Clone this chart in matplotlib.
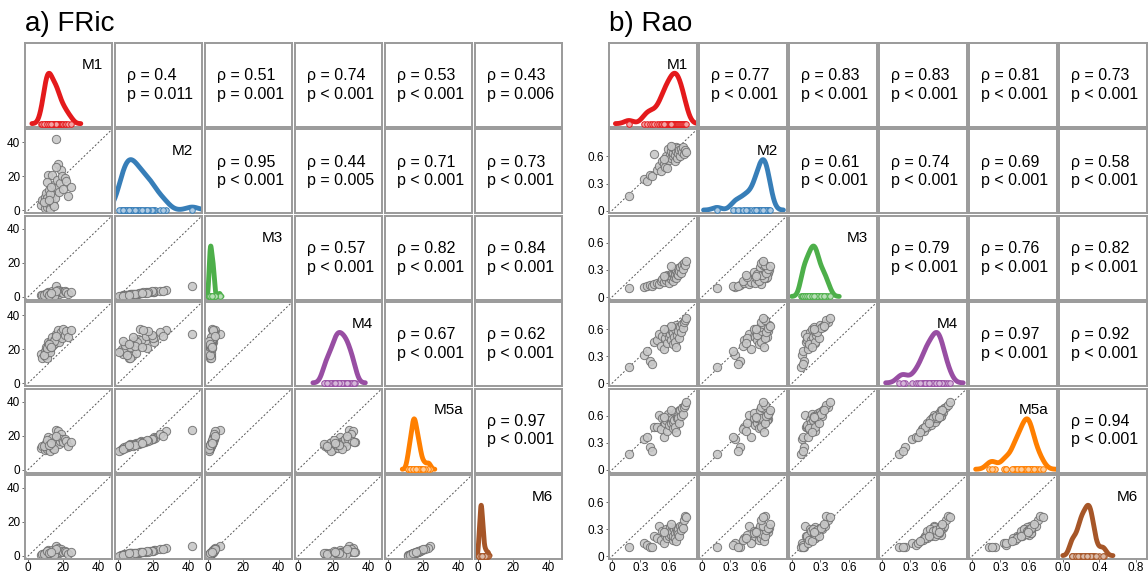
import numpy as np
import matplotlib.pyplot as plt

plt.rcParams['font.family'] = ['Liberation Sans', 'DejaVu Sans']

models = ["M1", "M2", "M3", "M4", "M5a", "M6"]
colors = ["#e41a1c", "#377eb8", "#4daf4a", "#984ea3", "#ff7f00", "#a65628"]

# FRic per site
fric_m1 = [7.5, 8.0, 9.5, 9.8, 10.0, 10.2, 10.5, 10.8, 11.0, 11.3, 11.6, 12.0, 12.3, 12.8, 13.2, 13.6, 14.0, 14.5, 15.0, 15.4,
           15.8, 16.2, 16.6, 17.0, 17.5, 18.0, 18.6, 19.2, 20.0, 20.8, 21.5, 22.8, 24.5, 8.8, 10.6, 12.5, 14.8, 16.0, 11.8, 13.0]
fric_m2 = [3.0, 6.0, 1.5, 8.0, 4.5, 10.0, 2.0, 7.0, 5.5, 20.5, 3.5, 12.0, 0.5, 9.0, 6.5, 21.0, 4.0, 15.0, 11.0, 7.5,
           42.0, 13.0, 18.0, 27.0, 10.5, 16.0, 24.0, 20.0, 12.5, 19.0, 17.0, 8.5, 14.0, 5.0, 16.5, 9.5, 2.5, 25.5, 6.0, 13.5]
fric_m3 = [0.8, 1.2, 0.5, 1.5, 1.0, 1.8, 0.6, 1.4, 1.1, 2.9, 0.9, 2.0, 0.3, 1.6, 1.3, 3.2, 1.0, 2.4, 1.9, 1.5,
           6.5, 2.1, 2.8, 3.8, 1.7, 2.6, 3.5, 3.0, 2.2, 3.1, 2.7, 1.6, 2.5, 1.2, 2.4, 1.7, 0.7, 3.6, 1.3, 2.3]
fric_m4 = [17, 15, 19, 16, 21, 18, 20, 14.5, 22, 24, 19.5, 23, 18.5, 25, 21.5, 27, 22.5, 24.5, 26, 23.5,
           29, 25.5, 28, 31, 24, 27.5, 30, 26.5, 32, 28.5, 30.5, 27, 31.5, 16.5, 20.5, 22, 25, 28, 23, 21]
fric_m5a = [12.5, 14.0, 11.5, 14.5, 13.0, 15.5, 12.0, 14.8, 13.5, 19.0, 13.2, 15.2, 11.0, 15.0, 14.2, 18.5, 12.8, 16.0, 15.5, 14.5,
            23.5, 16.5, 17.5, 22.5, 15.0, 17.0, 21.0, 18.0, 16.2, 17.8, 16.8, 14.0, 16.0, 13.8, 17.2, 14.6, 12.2, 20.0, 14.3, 15.8]
fric_m6 = [0.8, 1.4, 0.4, 1.6, 1.0, 2.0, 0.6, 1.7, 1.2, 3.4, 1.1, 2.0, 0.2, 1.8, 1.5, 3.2, 0.9, 2.2, 2.0, 1.6,
           5.6, 2.4, 2.8, 4.8, 1.8, 2.6, 4.2, 3.0, 2.3, 2.9, 2.5, 1.4, 2.2, 1.3, 2.7, 1.6, 0.7, 3.8, 1.5, 2.1]

# Rao per site
rao_m1 = [0.18, 0.34, 0.37, 0.40, 0.42, 0.45, 0.48, 0.50, 0.52, 0.53, 0.55, 0.56, 0.57, 0.58, 0.59, 0.60, 0.61, 0.62, 0.63, 0.64,
          0.65, 0.65, 0.66, 0.67, 0.67, 0.68, 0.68, 0.69, 0.70, 0.70, 0.71, 0.72, 0.73, 0.74, 0.75, 0.76, 0.77, 0.78, 0.62, 0.55]
rao_m2 = [0.16, 0.35, 0.33, 0.40, 0.38, 0.63, 0.45, 0.50, 0.44, 0.55, 0.52, 0.48, 0.60, 0.47, 0.68, 0.56, 0.62, 0.58, 0.66, 0.70,
          0.60, 0.64, 0.69, 0.55, 0.62, 0.71, 0.66, 0.58, 0.69, 0.64, 0.67, 0.61, 0.68, 0.65, 0.70, 0.63, 0.67, 0.65, 0.72, 0.57]
rao_m3 = [0.10, 0.11, 0.12, 0.13, 0.12, 0.15, 0.16, 0.14, 0.18, 0.20, 0.17, 0.22, 0.19, 0.24, 0.21, 0.16, 0.25, 0.20, 0.23, 0.27,
          0.18, 0.26, 0.22, 0.28, 0.24, 0.30, 0.21, 0.26, 0.32, 0.25, 0.29, 0.33, 0.27, 0.35, 0.31, 0.38, 0.36, 0.40, 0.34, 0.23]
rao_m4 = [0.18, 0.32, 0.36, 0.25, 0.22, 0.46, 0.48, 0.55, 0.42, 0.53, 0.38, 0.50, 0.57, 0.45, 0.60, 0.52, 0.55, 0.48, 0.62, 0.58,
          0.44, 0.56, 0.51, 0.60, 0.46, 0.65, 0.40, 0.54, 0.62, 0.58, 0.50, 0.63, 0.57, 0.66, 0.61, 0.68, 0.70, 0.72, 0.64, 0.60]
rao_m5a = [0.18, 0.34, 0.36, 0.25, 0.21, 0.48, 0.47, 0.61, 0.45, 0.57, 0.36, 0.52, 0.55, 0.43, 0.62, 0.50, 0.58, 0.52, 0.60, 0.56,
           0.46, 0.53, 0.55, 0.63, 0.48, 0.64, 0.42, 0.58, 0.60, 0.57, 0.52, 0.66, 0.60, 0.68, 0.62, 0.70, 0.72, 0.75, 0.66, 0.59]
rao_m6 = [0.10, 0.15, 0.12, 0.10, 0.10, 0.22, 0.20, 0.34, 0.18, 0.28, 0.15, 0.24, 0.30, 0.20, 0.26, 0.22, 0.32, 0.28, 0.24, 0.27,
          0.18, 0.22, 0.30, 0.26, 0.20, 0.31, 0.17, 0.28, 0.30, 0.25, 0.22, 0.33, 0.29, 0.34, 0.31, 0.40, 0.45, 0.44, 0.36, 0.27]

# upper-triangle annotations, row by row
fric_rho = ["0.4", "0.51", "0.74", "0.53", "0.43", "0.95", "0.44", "0.71", "0.73",
            "0.57", "0.82", "0.84", "0.67", "0.62", "0.97"]
fric_p = ["= 0.011", "= 0.001", "< 0.001", "< 0.001", "= 0.006", "< 0.001", "= 0.005", "< 0.001", "< 0.001",
          "< 0.001", "< 0.001", "< 0.001", "< 0.001", "< 0.001", "< 0.001"]
rao_rho = ["0.77", "0.83", "0.83", "0.81", "0.73", "0.61", "0.74", "0.69", "0.58",
           "0.79", "0.76", "0.82", "0.97", "0.92", "0.94"]
rao_p = ["< 0.001"] * 15

W, H = 1148, 575
fig = plt.figure(figsize=(W / 100, H / 100), dpi=100)


def density(v):
    # gaussian kernel density, R-style default bandwidth
    v = np.asarray(v, float)
    sd = v.std(ddof=1)
    iqr = np.percentile(v, 75) - np.percentile(v, 25)
    bw = 0.9 * min(sd, iqr / 1.34) * len(v) ** -0.2
    xs = np.linspace(v.min() - 3 * bw, v.max() + 3 * bw, 300)
    d = np.exp(-0.5 * ((xs[:, None] - v[None, :]) / bw) ** 2).sum(axis=1)
    return xs, d / d.max()


def lighten(c, f=0.6):
    rgb = np.array(plt.matplotlib.colors.to_rgb(c))
    return tuple(rgb + (1 - rgb) * f)


def pairs_panel(x0, cw, data, lims, ticks, tlabels, last_lims, last_ticks, last_labels, rhos, ps, title):
    fig.text(x0 / W, 1 - 24 / H, title, fontsize=20, va='center', ha='left')
    k = 0
    for i in range(6):
        for j in range(6):
            left = x0 + 90 * j
            top = 43 + 86.4 * i
            ax = fig.add_axes([left / W, 1 - (top + 84) / H, cw / W, 84 / H])
            for s in ax.spines.values():
                s.set_color('#9a9a9a')
                s.set_linewidth(1.4)
            ax.set_xticks([])
            ax.set_yticks([])
            xl = last_lims if j == 5 else lims
            if i == j:
                xs, d = density(data[i])
                ax.plot(xs, 0.04 + 0.6 * d, color=colors[i], lw=3.5, solid_capstyle='round', zorder=2)
                ax.scatter(data[i], np.full(len(data[i]), 0.04), s=16, marker='o',
                           facecolor=lighten(colors[i]), edgecolor=colors[i], lw=0.7, zorder=3)
                ax.set_xlim(xl)
                ax.set_ylim(0, 1)
                ax.text(0.9, 0.74, models[i], transform=ax.transAxes, ha='right', va='center', fontsize=11)
            elif i > j:
                ax.plot(lims, lims, color='#555555', lw=0.7, dashes=(2, 2), zorder=1)
                ax.scatter(data[j], data[i], s=36, facecolor='#c8c8c8', edgecolor='#707070', lw=0.7,
                           alpha=0.9, zorder=2)
                ax.set_xlim(lims)
                ax.set_ylim(lims)
            else:
                ax.text(0.14, 0.61, "\u03c1 = " + rhos[k], transform=ax.transAxes, ha='left', va='center', fontsize=11.5)
                ax.text(0.14, 0.39, "p " + ps[k], transform=ax.transAxes, ha='left', va='center', fontsize=11.5)
                k += 1
            if j == 0 and i > 0:
                ax.set_yticks(ticks)
                ax.set_yticklabels(tlabels)
            if i == 5:
                if j == 5:
                    ax.set_xticks(last_ticks)
                    ax.set_xticklabels(last_labels)
                else:
                    ax.set_xticks(ticks)
                    ax.set_xticklabels(tlabels)
            ax.tick_params(length=2, width=0.6, color='#555555', labelsize=8.5, pad=1.5)
            ax.tick_params(axis='x', pad=0.5)


fric = [fric_m1, fric_m2, fric_m3, fric_m4, fric_m5a, fric_m6]
rao = [rao_m1, rao_m2, rao_m3, rao_m4, rao_m5a, rao_m6]

pairs_panel(25, 87, fric, (-1.8, 47.6), [0, 20, 40], ["0", "20", "40"],
            (-1.8, 47.6), [0, 20, 40], ["0", "20", "40"], fric_rho, fric_p, "a) FRic")
pairs_panel(609, 88, rao, (-0.03, 0.9), [0, 0.3, 0.6], ["0", "0.3", "0.6"],
            (-0.04, 0.92), [0, 0.4, 0.8], ["0.0", "0.4", "0.8"], rao_rho, rao_p, "b) Rao")

fig.savefig("out.png", dpi=100)
